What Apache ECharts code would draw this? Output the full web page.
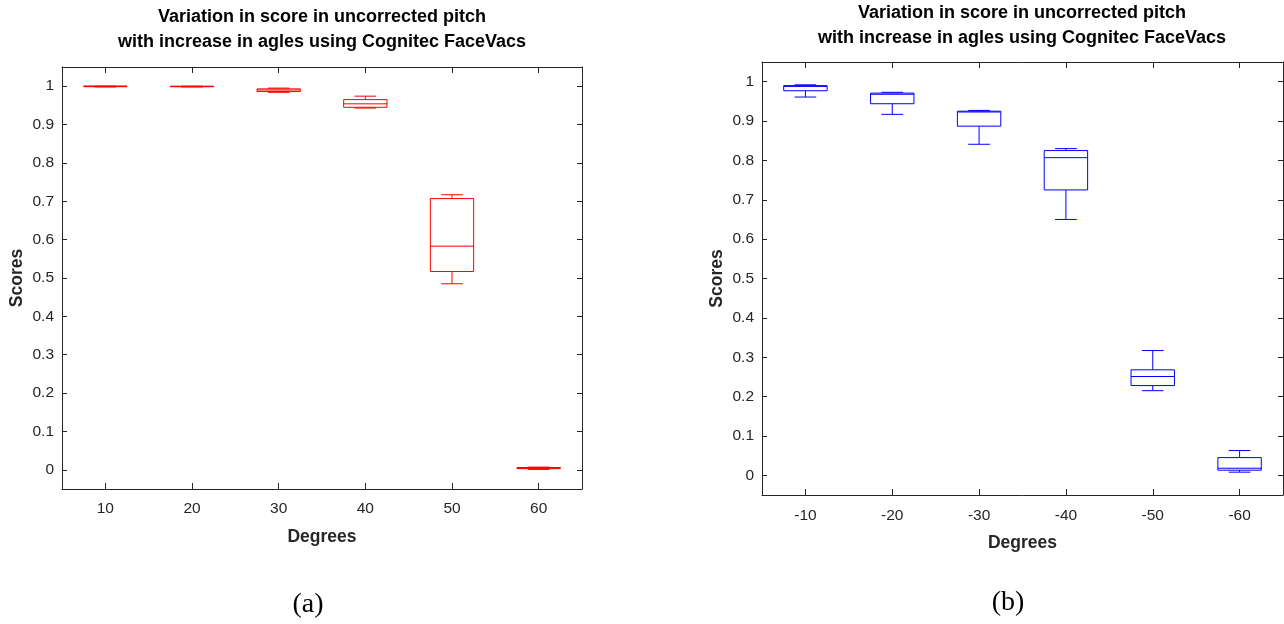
<!DOCTYPE html>
<html><head><meta charset="utf-8">
<script src="https://cdn.jsdelivr.net/npm/echarts@6/dist/echarts.min.js"></script>
<style>html,body{margin:0;padding:0;background:#fff}#c{width:1284px;height:624px}</style>
</head><body><div id="c"></div>
<script>
// ---- data (a): uncorrected pitch, positive angles ----
const degreesA = ['10', '20', '30', '40', '50', '60'];
const minA = [0.998, 0.998, 0.984, 0.943, 0.485, 0.001];
const q1A  = [0.999, 0.999, 0.986, 0.945, 0.517, 0.003];
const medA = [1.000, 0.999, 0.990, 0.954, 0.583, 0.004];
const q3A  = [1.000, 1.000, 0.993, 0.965, 0.707, 0.006];
const maxA = [1.000, 1.000, 0.995, 0.974, 0.717, 0.007];

// ---- data (b): negative angles ----
const degreesB = ['-10', '-20', '-30', '-40', '-50', '-60'];
const minB = [0.961, 0.917, 0.841, 0.650, 0.215, 0.008];
const q1B  = [0.977, 0.944, 0.887, 0.725, 0.228, 0.013];
const medB = [0.988, 0.968, 0.923, 0.807, 0.251, 0.018];
const q3B  = [0.990, 0.971, 0.925, 0.825, 0.268, 0.045];
const maxB = [0.992, 0.973, 0.927, 0.830, 0.317, 0.063];

const scoreTicks = [0, 0.1, 0.2, 0.3, 0.4, 0.5, 0.6, 0.7, 0.8, 0.9, 1];
const titleLines = ['Variation in score in uncorrected pitch', 'with increase in agles using Cognitec FaceVacs'];

const AX = '#262626';
const FONT = '"Liberation Sans", Arial, sans-serif';

function boxRenderer(color) {
  return function (params, api) {
    const i = api.value(0);
    const bw = api.size([1, 0])[0];
    const hw = bw * 0.25, cw = bw * 0.125;
    const pMin = api.coord([i, api.value(1)]);
    const pQ1 = api.coord([i, api.value(2)]);
    const pMed = api.coord([i, api.value(3)]);
    const pQ3 = api.coord([i, api.value(4)]);
    const pMax = api.coord([i, api.value(5)]);
    const x = pMin[0];
    const st = { stroke: color, lineWidth: 1, fill: null };
    return {
      type: 'group',
      children: [
        { type: 'line', shape: { x1: x, y1: pQ3[1], x2: x, y2: pMax[1] }, style: st },
        { type: 'line', shape: { x1: x, y1: pQ1[1], x2: x, y2: pMin[1] }, style: st },
        { type: 'line', shape: { x1: x - cw, y1: pMax[1], x2: x + cw, y2: pMax[1] }, style: st },
        { type: 'line', shape: { x1: x - cw, y1: pMin[1], x2: x + cw, y2: pMin[1] }, style: st },
        { type: 'rect', shape: { x: x - hw, y: pQ3[1], width: 2 * hw, height: Math.max(pQ1[1] - pQ3[1], 0.5) }, style: { stroke: color, fill: 'none', lineWidth: 1 } },
        { type: 'line', shape: { x1: x - hw, y1: pMed[1], x2: x + hw, y2: pMed[1] }, style: st }
      ]
    };
  };
}

function xAxes(gridIndex, cats, labelMargin) {
  const base = {
    type: 'category', data: cats, gridIndex: gridIndex, boundaryGap: true,
    axisLine: { show: true, onZero: false, lineStyle: { color: AX, width: 1 } },
    axisTick: { show: true, inside: true, length: 6, alignWithLabel: true, lineStyle: { color: AX, width: 1 } },
    splitLine: { show: false }
  };
  return [
    Object.assign({}, base, {
      position: 'bottom',
      axisLabel: { color: AX, fontSize: 15.5, fontFamily: FONT, margin: 12 + (labelMargin - 12) },
      name: 'Degrees', nameLocation: 'middle', nameGap: 39,
      nameTextStyle: { color: AX, fontSize: 17.5, fontWeight: 'bold', fontFamily: FONT }
    }),
    Object.assign({}, base, { position: 'top', axisLabel: { show: false } })
  ];
}

function yAxes(gridIndex) {
  const base = {
    type: 'value', gridIndex: gridIndex, min: -0.05, max: 1.05,
    axisLine: { show: true, onZero: false, lineStyle: { color: AX, width: 1 } },
    axisTick: { show: true, inside: true, length: 5, customValues: scoreTicks, lineStyle: { color: AX } },
    splitLine: { show: false }
  };
  return [
    Object.assign({}, base, {
      position: 'left',
      axisLabel: { color: AX, fontSize: 15.5, fontFamily: FONT, margin: 8, customValues: scoreTicks },
      name: 'Scores', nameLocation: 'middle', nameGap: 36,
      nameTextStyle: { color: AX, fontSize: 17.5, fontWeight: 'bold', fontFamily: FONT }
    }),
    Object.assign({}, base, { position: 'right', axisLabel: { show: false, customValues: scoreTicks } })
  ];
}

function titleText(x, y, txt) {
  return { type: 'text', x: x, y: y, style: { text: txt, fill: '#000', font: 'bold 18px ' + FONT, textAlign: 'center', textVerticalAlign: 'middle' } };
}

const chart = echarts.init(document.getElementById('c'), null, { renderer: 'canvas' });
chart.setOption({
  backgroundColor: '#fff',
  animation: false,
  grid: [
    { left: 62, top: 67, width: 520, height: 422 },
    { left: 762, top: 62, width: 521, height: 433 }
  ],
  xAxis: [].concat(xAxes(0, degreesA, 12), xAxes(1, degreesB, 13)),
  yAxis: [].concat(yAxes(0), yAxes(1)),
  series: [
    {
      type: 'custom', xAxisIndex: 0, yAxisIndex: 0,
      renderItem: boxRenderer('#ff0000'),
      encode: { x: 0, y: [1, 2, 3, 4, 5] },
      data: degreesA.map((d, i) => [i, minA[i], q1A[i], medA[i], q3A[i], maxA[i]])
    },
    {
      type: 'custom', xAxisIndex: 2, yAxisIndex: 2,
      renderItem: boxRenderer('#0000ff'),
      encode: { x: 0, y: [1, 2, 3, 4, 5] },
      data: degreesB.map((d, i) => [i, minB[i], q1B[i], medB[i], q3B[i], maxB[i]])
    }
  ],
  graphic: [
    titleText(322, 17, titleLines[0]),
    titleText(322, 42, titleLines[1]),
    titleText(1022, 13, titleLines[0]),
    titleText(1022, 38, titleLines[1]),
    { type: 'text', x: 308, y: 605, style: { text: '(a)', fill: '#000', font: '28px "Liberation Serif", "Times New Roman", serif', textAlign: 'center', textVerticalAlign: 'middle' } },
    { type: 'text', x: 1008, y: 603, style: { text: '(b)', fill: '#000', font: '28px "Liberation Serif", "Times New Roman", serif', textAlign: 'center', textVerticalAlign: 'middle' } }
  ]
});
</script>
</body></html>
